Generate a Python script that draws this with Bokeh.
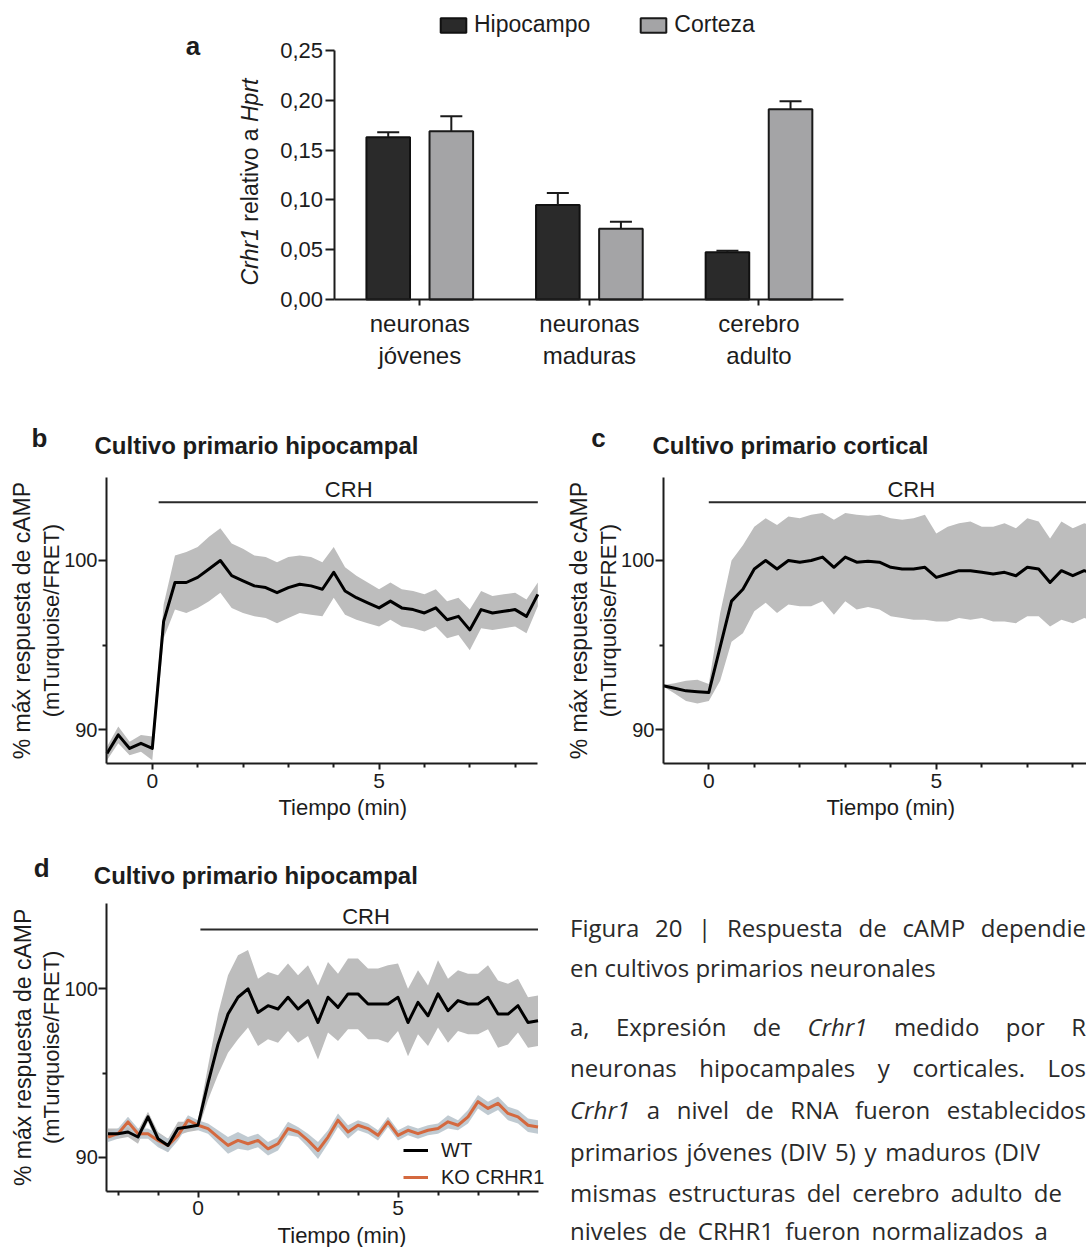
import math
from bokeh.plotting import figure
from bokeh.models import (ColumnDataSource, Range1d, FixedTicker, LinearAxis,
                          CustomJSTickFormatter, Label, Legend, LegendItem,
                          Whisker, TeeHead, Div)
from bokeh.layouts import column, row
from bokeh.transform import dodge
from bokeh.embed import file_html
from bokeh.resources import INLINE

# ---------------- data: panel a ----------------
categories = ["neuronas\njóvenes", "neuronas\nmaduras", "cerebro\nadulto"]
cat_pos = [0.5, 1.5, 2.5]
hipocampo = [0.163, 0.095, 0.0475]
hipocampo_err = [0.005, 0.012, 0.0015]
corteza = [0.169, 0.071, 0.191]
corteza_err = [0.015, 0.007, 0.008]
a_yticks = [0.0, 0.05, 0.10, 0.15, 0.20, 0.25]

# ---------------- data: panel b (hipocampal) ----------------
t_b = [-1.0, -0.75, -0.5, -0.25, 0.0, 0.25, 0.5, 0.75, 1.0, 1.25, 1.5, 1.75, 2.0,
       2.25, 2.5, 2.75, 3.0, 3.25, 3.5, 3.75, 4.0, 4.25, 4.5, 4.75, 5.0, 5.25,
       5.5, 5.75, 6.0, 6.25, 6.5, 6.75, 7.0, 7.25, 7.5, 7.75, 8.0, 8.25, 8.5]
b_mean = [88.6, 89.7, 88.9, 89.2, 88.9, 96.4, 98.7, 98.7, 99.0, 99.5, 100.0, 99.1,
          98.8, 98.5, 98.4, 98.1, 98.4, 98.6, 98.5, 98.3, 99.3, 98.2, 97.8, 97.5,
          97.2, 97.6, 97.2, 97.1, 96.9, 97.2, 96.5, 96.7, 95.9, 97.1, 96.9, 97.0,
          97.1, 96.7, 98.0]
b_sem = [0.4, 0.5, 0.4, 0.5, 0.7, 1.0, 1.6, 1.8, 1.8, 1.9, 1.9, 1.9, 1.9, 1.8, 1.8,
         1.8, 1.8, 1.7, 1.7, 1.6, 1.5, 1.4, 1.3, 1.2, 1.1, 1.1, 1.1, 1.1, 1.1, 1.1,
         1.1, 1.1, 1.2, 1.1, 1.0, 1.0, 1.0, 1.0, 0.7]

# ---------------- data: panel c (cortical) ----------------
t_c = [-1.0, -0.75, -0.5, -0.25, 0.0, 0.25, 0.5, 0.75, 1.0, 1.25, 1.5, 1.75, 2.0,
       2.25, 2.5, 2.75, 3.0, 3.25, 3.5, 3.75, 4.0, 4.25, 4.5, 4.75, 5.0, 5.25,
       5.5, 5.75, 6.0, 6.25, 6.5, 6.75, 7.0, 7.25, 7.5, 7.75, 8.0, 8.25, 8.5]
c_mean = [92.6, 92.45, 92.3, 92.25, 92.2, 94.9, 97.6, 98.3, 99.5, 100.0, 99.5, 100.0,
          99.9, 100.0, 100.2, 99.6, 100.2, 99.9, 99.95, 99.9, 99.6, 99.5, 99.5, 99.6,
          99.0, 99.2, 99.4, 99.4, 99.3, 99.2, 99.3, 99.1, 99.6, 99.5, 98.7, 99.4,
          99.1, 99.4, 99.2]
c_sem = [0.05, 0.3, 0.6, 0.7, 0.5, 2.0, 2.4, 2.6, 2.5, 2.5, 2.6, 2.6, 2.6, 2.7, 2.6,
         2.8, 2.6, 2.8, 2.7, 2.8, 2.9, 2.9, 3.0, 3.1, 2.6, 2.8, 2.8, 2.9, 2.7, 2.8,
         2.9, 2.8, 2.9, 2.8, 2.6, 2.9, 2.8, 2.8, 2.8]

# ---------------- data: panel d (WT vs KO CRHR1) ----------------
t_d = [-2.25, -2.0, -1.75, -1.5, -1.25, -1.0, -0.75, -0.5, -0.25, 0.0, 0.25, 0.5,
       0.75, 1.0, 1.25, 1.5, 1.75, 2.0, 2.25, 2.5, 2.75, 3.0, 3.25, 3.5, 3.75, 4.0,
       4.25, 4.5, 4.75, 5.0, 5.25, 5.5, 5.75, 6.0, 6.25, 6.5, 6.75, 7.0, 7.25, 7.5,
       7.75, 8.0, 8.25, 8.5]
wt_mean = [91.4, 91.4, 91.5, 91.2, 92.4, 91.1, 90.7, 91.7, 91.8, 91.9, 94.4, 96.7,
           98.5, 99.5, 100.0, 98.6, 99.0, 98.8, 99.5, 98.8, 99.3, 98.0, 99.5, 98.9,
           99.7, 99.7, 99.1, 99.1, 99.1, 99.5, 98.0, 99.2, 98.4, 99.7, 98.7, 99.3,
           99.1, 99.1, 99.5, 98.5, 98.5, 99.0, 98.0, 98.1]
wt_sem = [0.3, 0.3, 0.3, 0.4, 0.3, 0.4, 0.4, 0.4, 0.3, 0.3, 1.0, 1.8, 2.3, 2.5, 2.3,
          2.0, 2.0, 2.0, 2.0, 2.0, 2.1, 2.2, 2.1, 2.0, 2.1, 2.1, 2.1, 2.1, 2.3, 2.0,
          2.0, 1.9, 1.8, 2.0, 1.9, 1.8, 1.8, 1.8, 1.9, 2.0, 1.8, 1.6, 1.5, 1.5]
ko_mean = [91.2, 91.4, 92.1, 91.4, 91.4, 91.0, 90.7, 91.3, 92.2, 91.9, 91.7, 91.2,
           90.7, 91.0, 90.8, 91.0, 90.5, 90.8, 91.7, 91.5, 91.0, 90.4, 91.2, 92.2,
           91.5, 91.9, 91.7, 91.3, 92.1, 91.3, 91.6, 91.4, 91.6, 91.7, 92.1, 91.9,
           92.4, 93.3, 92.9, 93.2, 92.6, 92.4, 91.9, 91.8]
ko_sem = [0.3, 0.3, 0.3, 0.3, 0.3, 0.4, 0.4, 0.3, 0.3, 0.3, 0.3, 0.4, 0.5, 0.5, 0.4,
          0.4, 0.4, 0.4, 0.4, 0.3, 0.4, 0.5, 0.4, 0.4, 0.4, 0.3, 0.3, 0.3, 0.3, 0.3,
          0.3, 0.3, 0.3, 0.3, 0.4, 0.3, 0.4, 0.4, 0.4, 0.4, 0.4, 0.4, 0.4, 0.4]

time_ticks = [0, 5]
resp_ticks = [90, 100]
resp_minor = [95]

# CRH application bar (onset/end in min, level in % units, label position)
crh_onset = {"b": 0.14, "c": 0.0, "d": 0.06}
crh_end = 8.5
crh_level = {"b": 103.44, "c": 103.44, "d": 103.52}
crh_text_t = {"b": 4.33, "c": 4.45, "d": 4.2}
xlabel_t = {"b": 4.2, "c": 4.0, "d": 3.6}

# caption (visible part)
caption_lines = [
    ["Figura", "20", "|", "Respuesta", "de", "cAMP", "dependie"],
    ["en cultivos primarios neuronales"],
    ["a,", "Expresión", "de", "<i>Crhr1</i>", "medido", "por", "R"],
    ["neuronas", "hipocampales", "y", "corticales.", "Los"],
    ["<i>Crhr1</i>", "a", "nivel", "de", "RNA", "fueron", "establecidos"],
    ["primarios", "jóvenes", "(DIV", "5)", "y", "maduros", "(DIV"],
    ["mismas", "estructuras", "del", "cerebro", "adulto", "de"],
    ["niveles", "de", "CRHR1", "fueron", "normalizados", "a"],
]

FONT = "Liberation Sans"
DARK = "#1c1c1c"
BAND = "#bdbdbd"
KO_COLOR = "#d4693f"


def style_axis(ax, size, tick_out=6, standoff=3):
    ax.axis_line_width = 2
    ax.axis_line_color = DARK
    ax.major_tick_line_width = 2
    ax.major_tick_line_color = DARK
    ax.minor_tick_line_width = 2
    ax.minor_tick_line_color = DARK
    ax.major_tick_in = 0
    ax.major_tick_out = tick_out
    ax.minor_tick_in = 0
    ax.minor_tick_out = 4
    ax.major_label_text_font = FONT
    ax.major_label_text_font_size = size
    ax.major_label_text_color = DARK
    ax.major_label_standoff = standoff


def add_text(p, x, y, text, dx=0, dy=0, size="22px", style="normal", align="center",
             baseline="middle", angle=0.0, color=DARK, font=FONT):
    p.add_layout(Label(x=x, y=y, x_offset=dx, y_offset=dy, text=text,
                       text_font=font, text_font_size=size, text_font_style=style,
                       text_align=align, text_baseline=baseline, angle=angle,
                       text_color=color))


def make_fig(w, h, xr, yr):
    p = figure(width=w, height=h, x_range=Range1d(*xr), y_range=Range1d(*yr),
               output_backend="svg", toolbar_location=None, title=None,
               x_axis_location=None, y_axis_location=None, min_border=0)
    p.outline_line_color = None
    p.grid.visible = False
    return p


# ================= panel a =================
src_a = ColumnDataSource(dict(
    x=cat_pos,
    hipo=hipocampo,
    hipo_up=[v + e for v, e in zip(hipocampo, hipocampo_err)],
    cort=corteza,
    cort_up=[v + e for v, e in zip(corteza, corteza_err)],
))

pa = make_fig(1086, 400, (-1.972, 4.431), (-0.1014, 0.3002))
OFF = 0.186
BW = 0.257
r_h = pa.vbar(x=dodge("x", -OFF), top="hipo", width=BW, source=src_a,
              fill_color="#2a2a2a", line_color="#111111", line_width=2)
r_c = pa.vbar(x=dodge("x", OFF), top="cort", width=BW, source=src_a,
              fill_color="#a4a4a6", line_color="#1a1a1a", line_width=2)
for off, lo, up in ((-OFF, "hipo", "hipo_up"), (OFF, "cort", "cort_up")):
    pa.add_layout(Whisker(base=dodge("x", off), lower=lo, upper=up,
                          source=src_a, line_width=2, line_color="#1a1a1a",
                          upper_head=TeeHead(size=22, line_width=2, line_color="#1a1a1a"),
                          lower_head=None, level="annotation"))

ax_ax = LinearAxis(fixed_location=0.0, bounds=(0, 3),
                   ticker=FixedTicker(ticks=cat_pos),
                   formatter=CustomJSTickFormatter(
                       args=dict(labels=categories),
                       code="const i = Math.round(tick - 0.5); return labels[i] || '';"))
style_axis(ax_ax, "24px", 6, 4)
ax_ax.major_label_text_line_height = 1.2
pa.add_layout(ax_ax, "below")

ay_ax = LinearAxis(fixed_location=0.0, bounds=(0, 0.25),
                   ticker=FixedTicker(ticks=a_yticks),
                   formatter=CustomJSTickFormatter(
                       code="return tick.toFixed(2).replace('.', ',');"))
style_axis(ay_ax, "22px", 9, 3)
pa.add_layout(ay_ax, "left")

add_text(pa, 0, 0.25, "a", dx=-142, dy=5, size="26px", style="bold")
# y label: "Crhr1 relativo a Hprt" (gene names in italics)
mid = 0.25 * (299 - 174.5) / 249
add_text(pa, 0, mid, "relativo a", dx=-85, size="23px", angle=math.pi / 2)
add_text(pa, 0, mid, "Crhr1", dx=-85, dy=-53, size="23px", style="italic",
         align="right", angle=math.pi / 2)
add_text(pa, 0, mid, "Hprt", dx=-85, dy=53, size="23px", style="italic",
         align="left", angle=math.pi / 2)

leg_a = Legend(items=[LegendItem(label="Hipocampo", renderers=[r_h]),
                      LegendItem(label="Corteza", renderers=[r_c])],
               orientation="horizontal", location=(437, 362),
               glyph_width=32, glyph_height=18, label_height=18, label_standoff=5,
               spacing=47, padding=0, margin=0, border_line_color=None,
               background_fill_alpha=0, label_text_font=FONT,
               label_text_font_size="23px", label_text_color=DARK)
pa.add_layout(leg_a)


# ================= time-course panels =================
def time_panel(w, h, xr, yr, bx, by, xminor):
    p = make_fig(w, h, xr, yr)
    xa = LinearAxis(fixed_location=by[0], bounds=bx,
                    ticker=FixedTicker(ticks=time_ticks, minor_ticks=xminor))
    style_axis(xa, "21px", 6, 4)
    p.add_layout(xa, "below")
    ya = LinearAxis(fixed_location=bx[0], bounds=by,
                    ticker=FixedTicker(ticks=resp_ticks, minor_ticks=resp_minor))
    style_axis(ya, "20px", 8, 1)
    p.add_layout(ya, "left")
    return p


def decorate(p, bx, by, key, letter, title, dx_letter, dx_title, dy_letter, dy_title):
    p.segment(x0=[crh_onset[key]], y0=[crh_level[key]], x1=[crh_end],
              y1=[crh_level[key]], line_width=2, line_color="#2a2a2a")
    add_text(p, crh_text_t[key], crh_level[key], "CRH", dy=13, size="22px")
    add_text(p, xlabel_t[key], by[0], "Tiempo (min)", dy=-44, size="22px")
    ymid = 0.5 * (by[0] + by[1])
    add_text(p, bx[0], ymid, "% máx respuesta de cAMP", dx=-84, size="23px",
             angle=math.pi / 2)
    add_text(p, bx[0], ymid, "(mTurquoise/FRET)", dx=-55, size="22px",
             angle=math.pi / 2)
    add_text(p, bx[0], by[1], letter, dx=dx_letter, dy=dy_letter, size="26px",
             style="bold")
    add_text(p, bx[0], by[1], title, dx=dx_title, dy=dy_title, size="24px",
             style="bold", align="left")


def band(p, t, m, s, color, alpha=1.0):
    src = ColumnDataSource(dict(t=t, m=m,
                                lo=[a - b for a, b in zip(m, s)],
                                hi=[a + b for a, b in zip(m, s)]))
    p.varea(x="t", y1="lo", y2="hi", source=src, fill_color=color, fill_alpha=alpha)
    return src


# ---- b ----
bx_b, by_b = (-1.01, 8.5), (88.0, 104.9)
pb = time_panel(560, 428, (-3.347, 9.0), (84.17, 109.45), bx_b, by_b,
                [1, 2, 3, 4, 6, 7, 8])
sb = band(pb, t_b, b_mean, b_sem, BAND)
pb.line(x="t", y="m", source=sb, line_width=3, line_color="black", line_join="round")
decorate(pb, bx_b, by_b, "b", "b", "Cultivo primario hipocampal", -67, -12, 40, 32)

# ---- c ----
bx_c, by_c = (-0.996, 8.5), (88.0, 104.9)
pc = time_panel(526, 428, (-3.259, 8.301), (84.17, 109.45), bx_c, by_c,
                [1, 2, 3, 4, 6, 7, 8])
sc = band(pc, t_c, c_mean, c_sem, BAND)
pc.line(x="t", y="m", source=sc, line_width=3, line_color="black", line_join="round")
decorate(pc, bx_c, by_c, "c", "c", "Cultivo primario cortical", -65, -11, 40, 32)

# ---- d ----
bx_d, by_d = (-2.28, 8.5), (87.98, 105.07)
pd_ = time_panel(560, 419, (-4.9375, 9.0625), (84.64, 109.52), bx_d, by_d,
                 [-2, -1, 1, 2, 3, 4, 6, 7, 8])
swt = band(pd_, t_d, wt_mean, wt_sem, BAND)
sko = band(pd_, t_d, ko_mean, ko_sem, "#b9c4cc", 0.9)
r_ko = pd_.line(x="t", y="m", source=sko, line_width=3, line_color=KO_COLOR,
                line_join="round")
r_wt = pd_.line(x="t", y="m", source=swt, line_width=3, line_color="black",
                line_join="round")
decorate(pd_, bx_d, by_d, "d", "d", "Cultivo primario hipocampal", -65, -13, 35, 28)
leg_d = Legend(items=[LegendItem(label="WT", renderers=[r_wt]),
                      LegendItem(label="KO CRHR1", renderers=[r_ko])],
               location=(403, 58), glyph_width=25, glyph_height=24, label_height=24,
               spacing=3, label_standoff=13, padding=0, margin=0,
               border_line_color=None, background_fill_alpha=0,
               label_text_font=FONT, label_text_font_size="20px",
               label_text_color=DARK)
pd_.add_layout(leg_d)

# ================= caption =================
cap_y = [928, 968, 1027, 1068, 1110, 1152, 1193, 1231]
cap_end = [1086, None, 1086, 1086, 1086, 1040, 1062, 1048]
DIV_X, DIV_Y, LH = 560, 828, 26
parts = []
for words, yc, xe in zip(caption_lines, cap_y, cap_end):
    top = yc - DIV_Y - LH / 2
    if xe is None:
        parts.append(
            f'<div style="position:absolute;left:10px;top:{top}px;height:{LH}px;'
            f'line-height:{LH}px;white-space:nowrap;">{" ".join(words)}</div>')
    else:
        w = xe - DIV_X - 10
        spans = "".join(f"<span>{wd}</span>" for wd in words)
        parts.append(
            f'<div style="position:absolute;left:10px;top:{top}px;width:{w}px;'
            f'height:{LH}px;line-height:{LH}px;display:flex;'
            f'justify-content:space-between;white-space:nowrap;">{spans}</div>')
html = ('<div style="position:relative;width:526px;height:419px;overflow:hidden;'
        "font-family:'Open Sans';font-size:24px;color:#2a2a2a;\">"
        + "".join(parts) + "</div>")
cap = Div(text=html, width=526, height=419, margin=0)

layout = column(pa, row(pb, pc, spacing=0), row(pd_, cap, spacing=0), spacing=0)

with open("out.html", "w") as f:
    f.write(file_html(layout, INLINE, title="Figura 20"))
